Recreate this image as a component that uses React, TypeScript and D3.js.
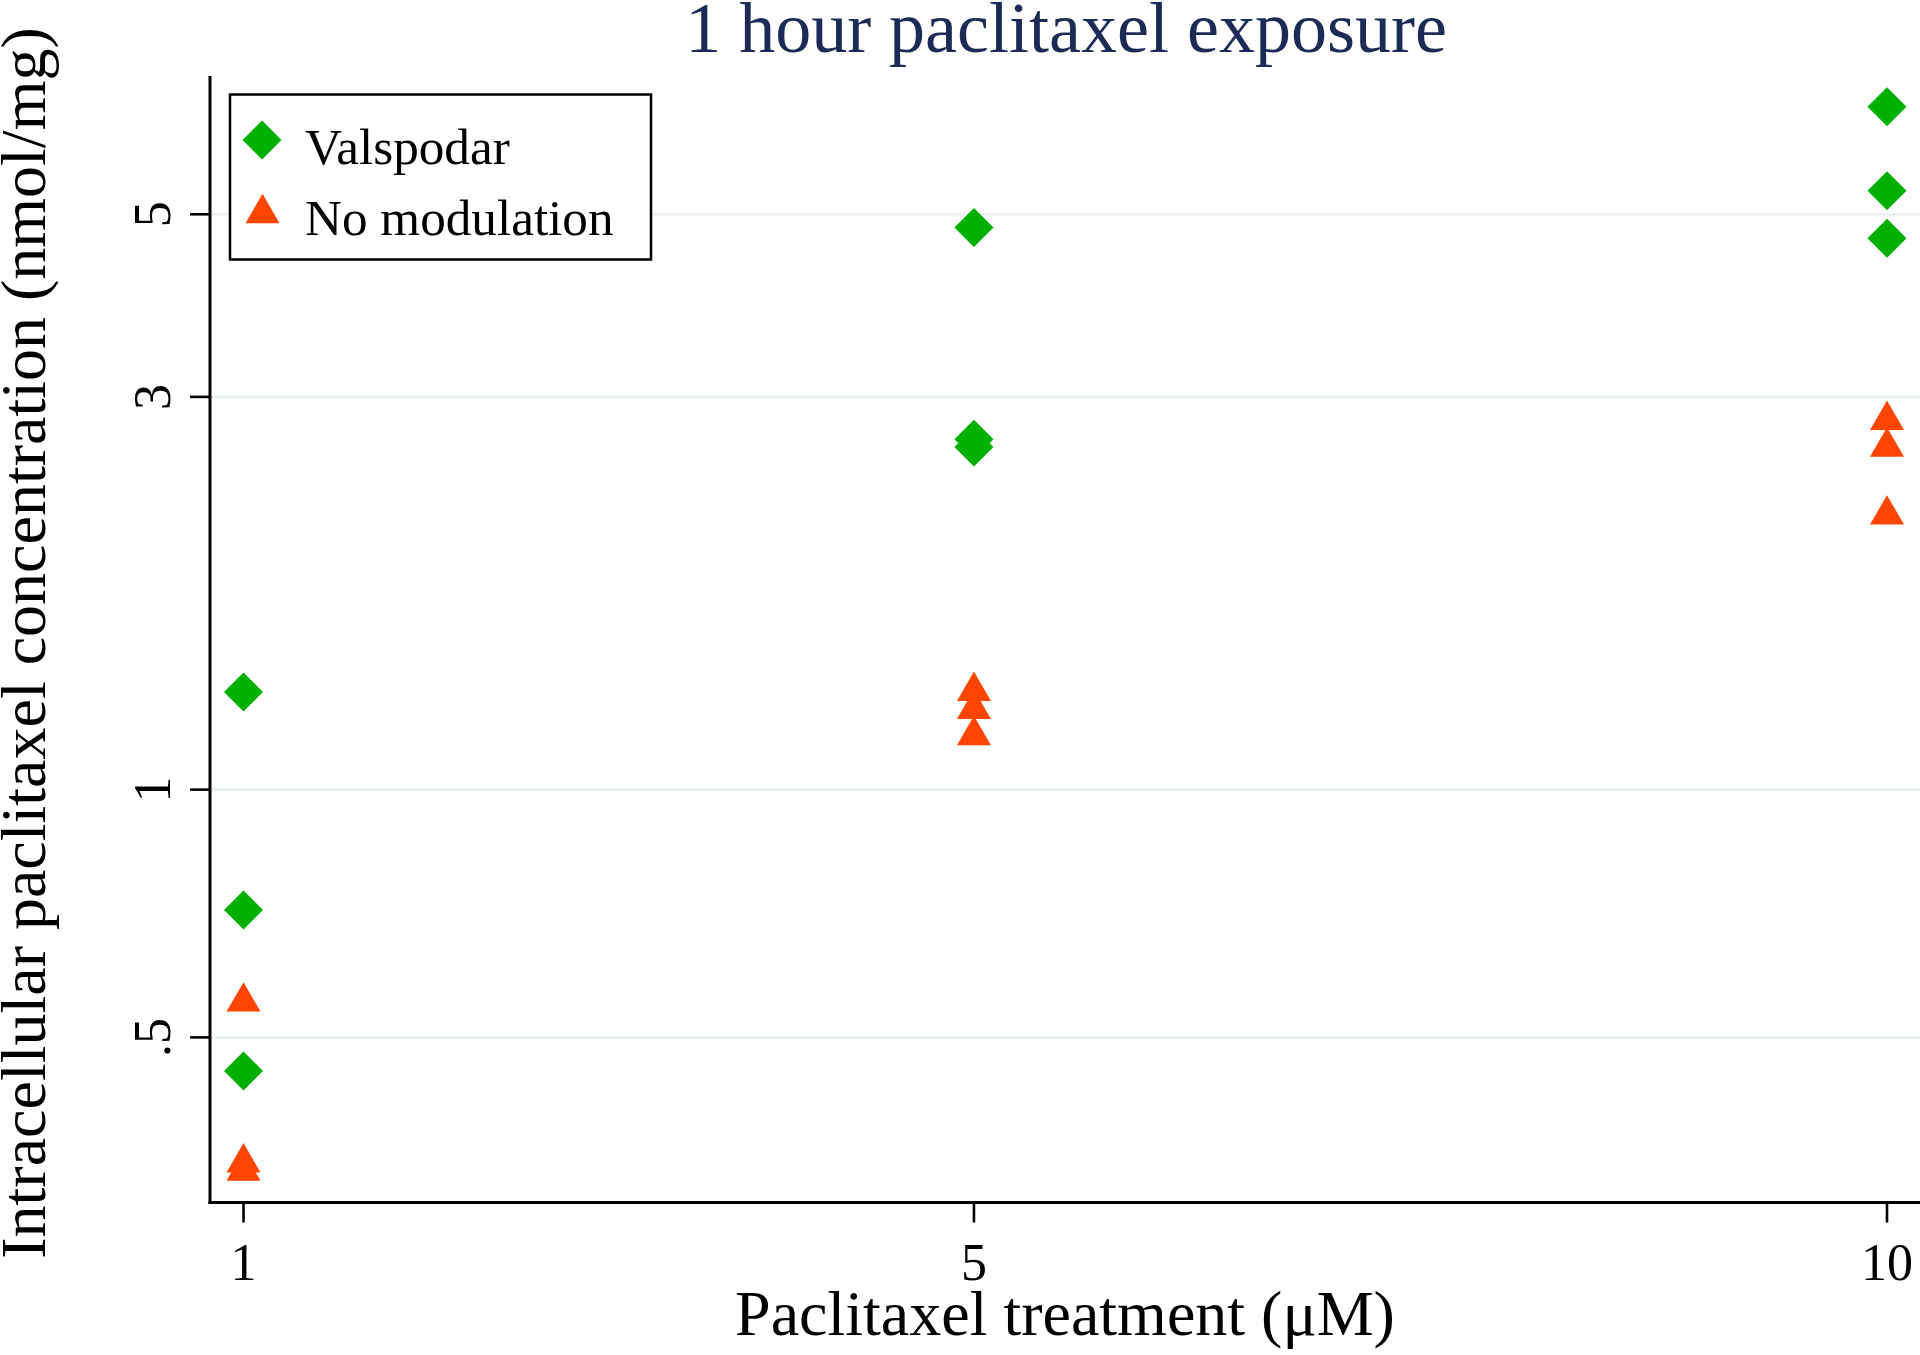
import React from 'react';
import * as d3 from 'd3';

// values (log y axis)
const valspodarX = [1, 1, 1, 5, 5, 5, 10, 10, 10];
const valspodarY = [1.314, 0.714, 0.455, 4.82, 2.664, 2.608, 6.755, 5.34, 4.675];
const noModX = [1, 1, 1, 5, 5, 5, 10, 10, 10];
const noModY = [0.56, 0.357, 0.349, 1.335, 1.27, 1.18, 2.85, 2.645, 2.187];

const xTicks = [1, 5, 10];
const yTicks = [0.5, 1, 3, 5];
const yTickLabels = ['.5', '1', '3', '5'];

const legendLabels = ['Valspodar', 'No modulation'];

const W = 1920;
const H = 1355;
const axisLeft = 210;
const axisBottom = 1202.5;
const axisTop = 76;

const GREEN = '#00b000';
const ORANGE = '#ff4500';
const GRID = '#e9f0f2';
const FONT = '"Liberation Serif", "Times New Roman", serif';

const x = d3.scaleLinear().domain([1, 10]).range([243.5, 1887]);
const y = d3.scaleLog().domain([0.5, 5]).range([1037.4, 214.3]);

const diamond = (r: number) => `M0,${-r}L${r},0L0,${r}L${-r},0Z`;
const triangle = (s: number) => {
  const h = (s * Math.sqrt(3)) / 2;
  return `M0,${-h / 2}L${s / 2},${h / 2}L${-s / 2},${h / 2}Z`;
};

const App: React.FC = () => {
  const dPath = diamond(19.5);
  const tPath = triangle(34);
  return (
    <svg
      width={W}
      height={H}
      style={{ position: 'absolute', left: 0, top: 0, display: 'block', background: '#fff' }}
      fontFamily={FONT}
    >
      <rect width={W} height={H} fill="#fff" />

      {/* gridlines */}
      {yTicks.map((t) => (
        <line key={`g${t}`} x1={axisLeft} x2={W} y1={y(t)} y2={y(t)} stroke={GRID} strokeWidth={2.6} />
      ))}

      {/* axes */}
      <line x1={axisLeft} x2={axisLeft} y1={axisTop} y2={axisBottom + 1.5} stroke="#000" strokeWidth={3} />
      <line x1={axisLeft - 1.5} x2={W} y1={axisBottom} y2={axisBottom} stroke="#000" strokeWidth={3} />

      {yTicks.map((t, i) => (
        <g key={`yt${t}`}>
          <line x1={axisLeft - 20} x2={axisLeft} y1={y(t)} y2={y(t)} stroke="#000" strokeWidth={2.6} />
          <text
            transform={`translate(170,${y(t)}) rotate(-90)`}
            textAnchor="middle"
            fontSize={52}
            fill="#000"
          >
            {yTickLabels[i]}
          </text>
        </g>
      ))}

      {xTicks.map((t) => (
        <g key={`xt${t}`}>
          <line x1={x(t)} x2={x(t)} y1={axisBottom} y2={axisBottom + 20} stroke="#000" strokeWidth={2.6} />
          <text x={x(t)} y={1280} textAnchor="middle" fontSize={52} fill="#000">
            {t}
          </text>
        </g>
      ))}

      {/* points */}
      {valspodarY.map((v, i) => (
        <path key={`v${i}`} d={dPath} transform={`translate(${x(valspodarX[i])},${y(v)})`} fill={GREEN} />
      ))}
      {noModY.map((v, i) => (
        <path key={`n${i}`} d={tPath} transform={`translate(${x(noModX[i])},${y(v)})`} fill={ORANGE} />
      ))}

      {/* titles */}
      <text x={1066} y={52} textAnchor="middle" fontSize={72} fill="#1c2b55">
        1 hour paclitaxel exposure
      </text>
      <text x={1065} y={1335} textAnchor="middle" fontSize={64} fill="#000">
        Paclitaxel treatment (μM)
      </text>
      <text transform="translate(45,643) rotate(-90)" textAnchor="middle" fontSize={64} fill="#000">
        Intracellular paclitaxel concentration (nmol/mg)
      </text>

      {/* legend */}
      <rect x={230} y={94.5} width={421} height={165} fill="#fff" stroke="#000" strokeWidth={2.5} />
      <path d={dPath} transform="translate(262,140)" fill={GREEN} />
      <text x={305} y={163.5} fontSize={51.2} fill="#000">
        {legendLabels[0]}
      </text>
      <path d={tPath} transform="translate(262.5,208.5)" fill={ORANGE} />
      <text x={305} y={234.5} fontSize={51.2} fill="#000">
        {legendLabels[1]}
      </text>
    </svg>
  );
};

export default App;
